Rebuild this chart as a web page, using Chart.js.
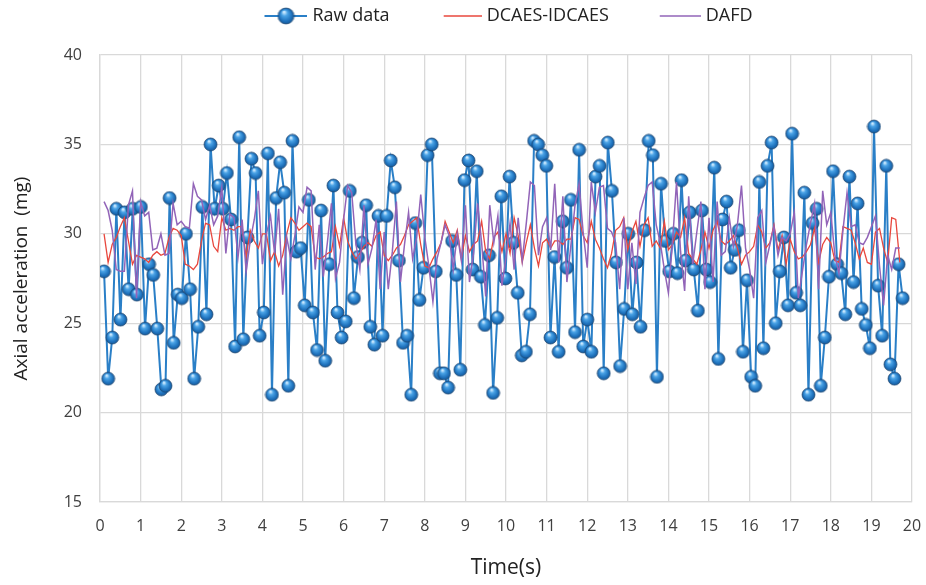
<!DOCTYPE html>
<html>
<head>
<meta charset="utf-8">
<title>Axial acceleration</title>
<script src="https://cdn.jsdelivr.net/npm/chart.js@4.4.1/dist/chart.umd.min.js"></script>
<style>
    html, body { margin: 0; padding: 0; background: #fff; }
    #wrap { width: 926px; height: 585px; }
</style>
</head>
<body>
<div id="wrap"><canvas id="myChart" width="926" height="585"></canvas></div>
<script>
// raw samples (mg), first at 0.1 s, last at ~19.77 s
var rawData = [27.9, 21.9, 24.2, 31.4, 25.2, 31.2, 26.9, 31.4, 26.6, 31.5,
    24.7, 28.3, 27.7, 24.7, 21.3, 21.5, 32.0, 23.9, 26.6, 26.4,
    30.0, 26.9, 21.9, 24.8, 31.5, 25.5, 35.0, 31.4, 32.7, 31.4,
    33.4, 30.8, 23.7, 35.4, 24.1, 29.8, 34.2, 33.4, 24.3, 25.6,
    34.5, 21.0, 32.0, 34.0, 32.3, 21.5, 35.2, 29.0, 29.2, 26.0,
    31.9, 25.6, 23.5, 31.3, 22.9, 28.3, 32.7, 25.6, 24.2, 25.1,
    32.4, 26.4, 28.7, 29.5, 31.6, 24.8, 23.8, 31.0, 24.3, 31.0,
    34.1, 32.6, 28.5, 23.9, 24.3, 21.0, 30.6, 26.3, 28.1, 34.4,
    35.0, 27.9, 22.2, 22.2, 21.4, 29.6, 27.7, 22.4, 33.0, 34.1,
    28.0, 33.5, 27.6, 24.9, 28.8, 21.1, 25.3, 32.1, 27.5, 33.2,
    29.5, 26.7, 23.2, 23.4, 25.5, 35.2, 35.0, 34.4, 33.8, 24.2,
    28.7, 23.4, 30.7, 28.1, 31.9, 24.5, 34.7, 23.7, 25.2, 23.4,
    33.2, 33.8, 22.2, 35.1, 32.4, 28.4, 22.6, 25.8, 30.0, 25.5,
    28.4, 24.8, 30.2, 35.2, 34.4, 22.0, 32.8, 29.6, 27.9, 30.0,
    27.8, 33.0, 28.5, 31.2, 28.0, 25.7, 31.3, 28.0, 27.3, 33.7,
    23.0, 30.8, 31.8, 28.1, 29.1, 30.2, 23.4, 27.4, 22.0, 21.5,
    32.9, 23.6, 33.8, 35.1, 25.0, 27.9, 29.8, 26.0, 35.6, 26.7,
    26.0, 32.3, 21.0, 30.6, 31.4, 21.5, 24.2, 27.6, 33.5, 28.3,
    27.8, 25.5, 33.2, 27.3, 31.7, 25.8, 24.9, 23.6, 36.0, 27.1,
    24.3, 33.8, 22.7, 21.9, 28.3, 26.4];
var rawFirst = 0.1;
var rawLast = 19.77;

// filtered outputs, one value every 0.1 s from 0.1 s to 19.7 s
var dcaesData = [30.0, 28.4, 29.4, 29.8, 30.4, 30.9, 29.6, 28.3, 28.8, 28.7,
    28.6, 28.4, 28.8, 29.0, 28.8, 28.9, 29.8, 30.3, 30.2, 29.9,
    28.3, 28.2, 28.0, 28.3, 29.6, 30.6, 30.5, 29.3, 29.0, 30.9,
    30.2, 30.3, 30.2, 30.4, 30.4, 28.7, 30.2, 29.6, 29.2, 30.0,
    30.0, 28.5, 29.0, 28.2, 28.8, 30.0, 30.9, 30.6, 30.2, 30.4,
    30.6, 30.4, 28.7, 28.6, 28.7, 28.9, 29.0, 30.4, 29.3, 30.9,
    29.6, 29.0, 28.6, 28.9, 29.3, 29.5, 29.3, 29.9, 30.1, 28.8,
    28.5, 28.8, 29.2, 29.4, 29.9, 30.5, 30.7, 30.9, 29.4, 28.2,
    28.1, 28.6, 29.0, 29.5, 30.7, 30.1, 29.5, 30.2, 28.6, 29.9,
    29.0, 29.4, 29.6, 30.7, 29.0, 28.6, 29.8, 30.1, 29.0, 30.0,
    28.9, 30.9, 29.9, 28.4, 29.5, 30.5, 29.2, 28.2, 29.5, 29.7,
    29.2, 29.6, 29.6, 29.4, 29.7, 29.7, 30.9, 30.8, 29.9, 29.5,
    30.7, 29.7, 29.2, 28.6, 28.1, 28.9, 30.2, 30.4, 30.9, 29.1,
    30.1, 30.7, 29.3, 30.5, 30.9, 29.3, 29.6, 29.2, 30.7, 29.1,
    29.4, 30.1, 29.8, 30.9, 28.9, 28.6, 28.3, 29.1, 30.1, 29.2,
    30.2, 30.7, 29.6, 29.4, 29.6, 29.9, 29.2, 28.3, 28.8, 29.0,
    29.3, 30.5, 30.1, 29.2, 29.5, 30.5, 29.1, 29.9, 28.3, 29.7,
    29.0, 28.6, 28.7, 29.0, 29.4, 30.3, 28.4, 29.4, 29.8, 29.5,
    28.5, 28.4, 30.4, 30.3, 30.2, 29.5, 28.6, 29.2, 28.4, 28.3,
    30.1, 30.3, 29.2, 28.4, 30.9, 30.8, 28.4];

var dafdData = [31.8, 31.3, 30.2, 28.0, 27.9, 27.9, 31.6, 32.4, 26.4, 31.8,
    31.0, 31.2, 29.1, 29.2, 30.0, 28.8, 28.9, 31.7, 30.5, 30.7,
    30.4, 30.3, 32.8, 32.1, 31.9, 30.8, 31.6, 30.5, 31.0, 32.6,
    28.9, 31.1, 30.9, 28.7, 30.8, 27.9, 29.6, 30.8, 32.4, 28.3,
    30.0, 31.0, 28.9, 31.4, 26.6, 29.8, 28.6, 29.9, 31.5, 31.2,
    32.6, 32.4, 28.0, 30.5, 27.6, 29.5, 31.7, 27.5, 28.4, 30.8,
    32.7, 32.3, 29.5, 28.0, 31.6, 28.3, 29.2, 30.8, 26.9, 30.1,
    26.9, 29.0, 31.8, 27.3, 29.4, 31.2, 28.6, 29.8, 32.2, 29.8,
    28.2, 26.2, 28.6, 29.5, 30.5, 29.9, 28.0, 30.0, 28.5, 31.6,
    27.3, 28.9, 31.7, 29.5, 26.5, 31.6, 29.5, 31.0, 27.1, 28.7,
    30.6, 28.0, 30.9, 28.5, 30.6, 32.9, 32.7, 28.8, 30.4, 30.9,
    29.1, 32.8, 28.4, 32.1, 27.3, 29.4, 31.6, 32.8, 30.1, 28.1,
    32.9, 31.2, 32.6, 32.7, 30.3, 30.1, 29.5, 26.9, 30.9, 26.9,
    29.5, 27.2, 31.2, 32.0, 32.7, 32.9, 30.5, 29.5, 28.0, 26.7,
    29.5, 32.9, 29.0, 26.8, 32.1, 28.3, 30.1, 31.8, 26.9, 30.9,
    27.3, 31.8, 28.8, 29.0, 30.9, 29.3, 30.5, 32.7, 29.2, 28.0,
    26.4, 30.9, 31.3, 28.4, 29.4, 30.4, 28.8, 29.8, 29.6, 30.0,
    31.2, 26.4, 27.9, 29.4, 30.6, 31.7, 26.9, 32.4, 30.5, 31.2,
    28.8, 27.8, 30.2, 32.3, 30.4, 30.5, 29.5, 29.4, 29.8, 30.4,
    31.0, 28.2, 26.0, 28.8, 28.0, 29.2, 29.2];
var modelStep = 0.1;

var xTicks = [0, 1, 2, 3, 4, 5, 6, 7, 8, 9, 10, 11, 12, 13, 14, 15, 16, 17, 18, 19, 20];
var yTicks = [15, 20, 25, 30, 35, 40];

var seriesNames = ['Raw data', 'DCAES-IDCAES', 'DAFD'];
var seriesColors = ['#2a7fc7', '#e8473d', '#9264b8'];

// x/y pairs for the library
var rawPoints = rawData.map(function (v, i) {
    return { x: rawFirst + i * (rawLast - rawFirst) / (rawData.length - 1), y: v };
});
var dcaesPoints = dcaesData.map(function (v, i) {
    return { x: (i + 1) * modelStep, y: v };
});
var dafdPoints = dafdData.map(function (v, i) {
    return { x: (i + 1) * modelStep, y: v };
});

// glossy blue marker
function makeBall(d) {
    var c = document.createElement('canvas');
    c.width = c.height = d + 2;
    var g = c.getContext('2d');
    var r = d / 2, cx = r + 1, cy = r + 1;
    var grad = g.createRadialGradient(cx - r * 0.25, cy - r * 0.5, r * 0.1, cx, cy, r);
    grad.addColorStop(0, '#cdeaff');
    grad.addColorStop(0.3, '#4aa3e6');
    grad.addColorStop(0.75, '#1f72bd');
    grad.addColorStop(1, '#175a98');
    g.fillStyle = grad;
    g.beginPath();
    g.arc(cx, cy, r, 0, Math.PI * 2);
    g.fill();
    g.strokeStyle = 'rgba(22, 62, 105, 0.85)';
    g.lineWidth = 0.8;
    g.stroke();
    return c;
}

var ball = makeBall(13);

// legend swatch: line (and ball) sitting at the right end of the box
var LEGEND_BOX = 44;
function legendIcon(len, width, color, marker) {
    var c = document.createElement('canvas');
    c.width = LEGEND_BOX + 8;
    c.height = 18;
    var g = c.getContext('2d');
    g.strokeStyle = color;
    g.lineWidth = width;
    g.beginPath();
    g.moveTo(c.width - len, 9);
    g.lineTo(c.width, 9);
    g.stroke();
    if (marker) {
        g.drawImage(marker, c.width - len / 2 - marker.width / 2, 9 - marker.height / 2);
    }
    return c;
}

var legendIcons = [
    legendIcon(43, 2, seriesColors[0], makeBall(16)),
    legendIcon(38, 1.5, seriesColors[1]),
    legendIcon(41, 1.5, seriesColors[2])
];

// extra room between legend and plot
var legendGap = {
    id: 'legendGap',
    beforeInit: function (chart) {
        var fit = chart.legend.fit;
        chart.legend.fit = function () {
            fit.call(this);
            this.height += 20;
        };
    }
};

Chart.defaults.font.family = "'Open Sans', sans-serif";
Chart.defaults.color = '#404040';

var ctx = document.getElementById('myChart').getContext('2d');
var chart = new Chart(ctx, {
    type: 'line',
    data: {
        datasets: [{
            label: seriesNames[0],
            data: rawPoints,
            borderColor: seriesColors[0],
            borderWidth: 2,
            pointStyle: ball,
            pointRadius: 6.5,
            order: 3
        }, {
            label: seriesNames[1],
            data: dcaesPoints,
            borderColor: seriesColors[1],
            borderWidth: 1.3,
            pointRadius: 0,
            order: 2
        }, {
            label: seriesNames[2],
            data: dafdPoints,
            borderColor: seriesColors[2],
            borderWidth: 1.5,
            pointRadius: 0,
            order: 1
        }]
    },
    options: {
        responsive: false,
        animation: false,
        devicePixelRatio: 1,
        events: [],
        layout: {
            padding: { top: -37, right: 14, bottom: 0, left: 0 }
        },
        plugins: {
            tooltip: { enabled: false },
            legend: {
                position: 'top',
                fullSize: false,
                labels: {
                    usePointStyle: true,
                    pointStyleWidth: LEGEND_BOX,
                    padding: 44,
                    color: '#222',
                    font: { size: 18 },
                    generateLabels: function (chart) {
                        return seriesNames.map(function (name, i) {
                            return {
                                text: name,
                                pointStyle: legendIcons[i],
                                fillStyle: seriesColors[i],
                                strokeStyle: seriesColors[i],
                                lineWidth: 0,
                                fontColor: '#222',
                                hidden: false,
                                datasetIndex: i
                            };
                        });
                    }
                }
            }
        },
        scales: {
            x: {
                type: 'linear',
                min: 0,
                max: 20,
                afterBuildTicks: function (scale) {
                    scale.ticks = xTicks.map(function (v) { return { value: v }; });
                },
                afterFit: function (scale) {
                    scale.height = 83;
                    // only half the last label hangs past the plot, not the tick padding too
                    scale.paddingRight = 10;
                },
                grid: { color: '#d9d9d9', lineWidth: 1.3, drawTicks: false },
                border: { color: '#d9d9d9', width: 1.3 },
                ticks: { padding: 15, autoSkip: false, maxRotation: 0, font: { size: 16 } },
                title: {
                    display: true,
                    text: 'Time(s)',
                    color: '#222',
                    font: { size: 21 },
                    padding: { top: 0, bottom: 4 }
                }
            },
            y: {
                min: 15,
                max: 40,
                afterBuildTicks: function (scale) {
                    scale.ticks = yTicks.map(function (v) { return { value: v }; });
                },
                afterFit: function (scale) { scale.width = 100; },
                grid: { color: '#d9d9d9', lineWidth: 1.3, drawTicks: false },
                border: { color: '#d9d9d9', width: 1.3 },
                ticks: { padding: 18, font: { size: 16 } },
                title: {
                    display: true,
                    text: 'Axial acceleration  (mg)',
                    color: '#222',
                    font: { size: 19 },
                    padding: { top: 10, bottom: 0 }
                }
            }
        }
    },
    plugins: [legendGap]
});
</script>
</body>
</html>
